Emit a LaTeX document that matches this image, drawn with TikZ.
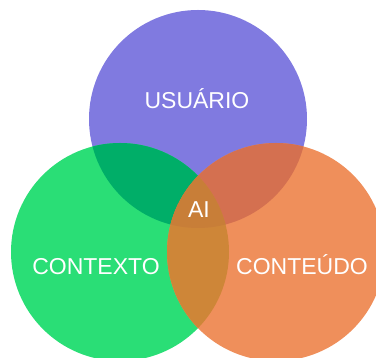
\documentclass[tikz,border=0pt]{standalone}
\usepackage{fontspec}
\setmainfont{Liberation Sans}
\definecolor{vennUsuario}{RGB}{128,122,224}
\definecolor{vennContexto}{RGB}{42,222,118}
\definecolor{vennConteudo}{RGB}{239,143,91}
\definecolor{vennUsuCtx}{RGB}{0,174,104}
\definecolor{vennUsuCnt}{RGB}{212,112,80}
\definecolor{vennCtxCnt}{RGB}{206,134,56}
\definecolor{vennAll}{RGB}{200,126,56}
\begin{document}
\begin{tikzpicture}[x=1pt, y=1pt,
  venntext/.style={text=white, inner sep=0pt, anchor=base, font=\fontsize{23}{27}\selectfont}]
% Venn diagram of three circles, sized in px
\def\rad{109}
\useasboundingbox (0,0) rectangle (376,358);
\coordinate (usuario) at (198,239);
\coordinate (contexto) at (120,106);
\coordinate (conteudo) at (276,106);
% Plain circles
\fill[vennUsuario] (usuario) circle (\rad);
\fill[vennContexto] (contexto) circle (\rad);
\fill[vennConteudo] (conteudo) circle (\rad);
% Pairwise overlaps
\begin{scope}
  \clip (usuario) circle (\rad);
  \fill[vennUsuCtx] (contexto) circle (\rad);
  \fill[vennUsuCnt] (conteudo) circle (\rad);
\end{scope}
\begin{scope}
  \clip (contexto) circle (\rad);
  \fill[vennCtxCnt] (conteudo) circle (\rad);
  % Centre, all three circles
  \clip (conteudo) circle (\rad);
  \fill[vennAll] (usuario) circle (\rad);
\end{scope}
% Labels
\node[venntext] (lblusuario) at (197,249) {USUÁRIO};
\node[venntext] (lblcontexto) at (96,83) {CONTEXTO};
\node[venntext] (lblconteudo) at (302,83) {CONTEÚDO};
\node[venntext] (lblai) at (199,140) {AI};
\end{tikzpicture}
\end{document}
